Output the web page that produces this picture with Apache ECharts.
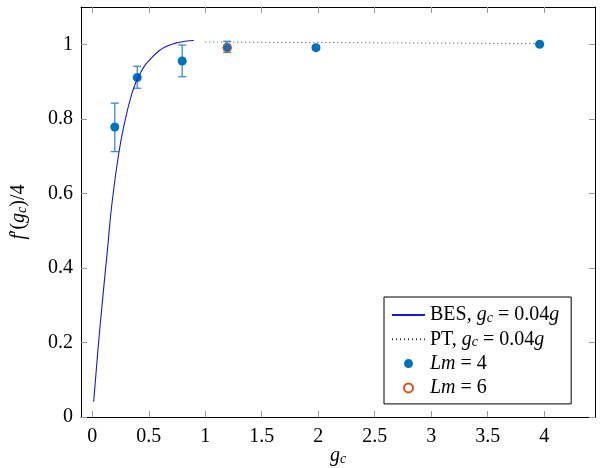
<!DOCTYPE html>
<html>
<head>
<meta charset="utf-8">
<script src="https://cdn.jsdelivr.net/npm/echarts@6/dist/echarts.min.js"></script>
<style>
  html, body { margin: 0; padding: 0; background: #fff; }
  #chart { width: 600px; height: 468px; }
</style>
</head>
<body>
<div id="chart"></div>
<script>
// BES curve, g_c = 0.04g
const besX = [0.012, 0.05, 0.091, 0.133, 0.173, 0.233, 0.286, 0.345, 0.389, 0.45, 0.498, 0.589, 0.66, 0.737, 0.82, 0.899]
const besY = [0.041, 0.18, 0.315, 0.445, 0.57, 0.705, 0.79, 0.862, 0.9, 0.936, 0.955, 0.982, 0.995, 1.003, 1.008, 1.01]
// PT, dotted
const ptX = [1.0, 3.96]
const ptY = [1.006, 1.002]
// Lm = 4 points with error bars
const lm4X = [0.199, 0.398, 0.796, 1.194, 1.98, 3.96]
const lm4Y = [0.778, 0.911, 0.955, 0.992, 0.991, 1.0]
const lm4Lo = [0.712, 0.882, 0.913, 0.978, 0.986, 0.996]
const lm4Hi = [0.842, 0.941, 0.998, 1.008, 0.996, 1.003]
// Lm = 6
const lm6X = [1.194]
const lm6Y = [0.99]

const xTicks = [0, 0.5, 1, 1.5, 2, 2.5, 3, 3.5, 4]
const yTicks = [0, 0.2, 0.4, 0.6, 0.8, 1]

const xName = '{i|g}{s|c}'
const yName = '{i|f}{n|\u2032(}{i|g}{s|c}{n|)/4}'
const legendText = {
  BES: '{n|BES, }{i|g}{s|c}{n| = 0.04}{i|g}',
  PT: '{n|PT, }{i|g}{s|c}{n| = 0.04}{i|g}',
  Lm4: '{i|Lm}{n| = 4}',
  Lm6: '{i|Lm}{n| = 6}'
}

const zip = (a, b) => a.map((v, i) => [v, b[i]])

const serif = 'Liberation Serif'
const rich = {
  n: { fontFamily: serif, fontSize: 20, lineHeight: 20, color: '#000' },
  i: { fontFamily: serif, fontStyle: 'italic', fontSize: 20, lineHeight: 20, color: '#000' },
  s: { fontFamily: serif, fontStyle: 'italic', fontSize: 14, lineHeight: 10, verticalAlign: 'bottom', color: '#000' }
}

const blue = '#0072BD'
const orange = '#D95319'
const tickStyle = { show: true, inside: true, length: 6, lineStyle: { color: '#999', width: 1 } }
const lineStyle = { show: true, lineStyle: { color: '#000', width: 1 } }
// no marker on the line entries of the legend
const noMark = { color: 'rgba(0,0,0,0)', borderWidth: 0 }

const chart = echarts.init(document.getElementById('chart'))

chart.setOption({
  animation: false,
  grid: { left: 81, right: 5, top: 7, bottom: 51, outerBoundsMode: 'none', containLabel: false },
  // x axis name placed by hand, the axis name kept slipping off the bottom
  graphic: [{
    type: 'text',
    x: 338,
    y: 456,
    style: { text: xName, rich: rich, align: 'center', verticalAlign: 'middle' }
  }],
  xAxis: [{
    type: 'value',
    min: -0.1,
    max: 4.45,
    axisLine: { ...lineStyle, onZero: false },
    axisTick: { ...tickStyle, customValues: xTicks },
    splitLine: { show: false },
    axisLabel: {
      customValues: xTicks,
      fontFamily: serif,
      fontSize: 20,
      color: '#000',
      margin: 10
    }
  }, {
    type: 'value',
    position: 'top',
    min: -0.1,
    max: 4.45,
    axisLine: { ...lineStyle, onZero: false },
    axisTick: { ...tickStyle, customValues: xTicks },
    splitLine: { show: false },
    axisLabel: { show: false }
  }],
  yAxis: [{
    type: 'value',
    min: 0,
    max: 1.1,
    axisLine: { ...lineStyle, onZero: false },
    axisTick: { ...tickStyle, customValues: yTicks },
    splitLine: { show: false },
    axisLabel: {
      customValues: yTicks,
      fontFamily: serif,
      fontSize: 20,
      color: '#000',
      margin: 8
    },
    name: yName,
    nameLocation: 'middle',
    nameGap: 52,
    nameTextStyle: { rich: rich }
  }, {
    type: 'value',
    position: 'right',
    min: 0,
    max: 1.1,
    axisLine: { ...lineStyle, onZero: false },
    axisTick: { ...tickStyle, customValues: yTicks },
    splitLine: { show: false },
    axisLabel: { show: false }
  }],
  legend: {
    orient: 'vertical',
    left: 384,
    top: 297,
    padding: [8, 12, 6, 7],
    itemGap: 4.3,
    itemWidth: 33,
    itemHeight: 9,
    borderColor: '#000',
    borderWidth: 1,
    backgroundColor: '#fff',
    data: [
      { name: 'BES', itemStyle: noMark },
      { name: 'PT', itemStyle: noMark },
      'Lm4',
      'Lm6'
    ],
    formatter: name => legendText[name],
    textStyle: { rich: rich }
  },
  series: [{
    name: 'BES',
    type: 'line',
    data: zip(besX, besY),
    smooth: true,
    symbol: 'none',
    lineStyle: { color: '#1818d8', width: 1.1 },
    itemStyle: { color: '#1818d8' }
  }, {
    name: 'PT',
    type: 'line',
    data: zip(ptX, ptY),
    symbol: 'none',
    lineStyle: { color: '#444', width: 1, type: [1, 3] },
    itemStyle: { color: '#444' }
  }, {
    name: 'err',
    type: 'custom',
    data: lm4X.map((x, i) => [x, lm4Lo[i], lm4Hi[i]]),
    renderItem: (params, api) => {
      const lo = api.coord([api.value(0), api.value(1)])
      const hi = api.coord([api.value(0), api.value(2)])
      const w = 4
      const style = { stroke: '#3a8dd0', lineWidth: 1.3 }
      return {
        type: 'group',
        children: [
          { type: 'line', shape: { x1: lo[0], y1: lo[1], x2: hi[0], y2: hi[1] }, style },
          { type: 'line', shape: { x1: lo[0] - w, y1: lo[1], x2: lo[0] + w, y2: lo[1] }, style },
          { type: 'line', shape: { x1: hi[0] - w, y1: hi[1], x2: hi[0] + w, y2: hi[1] }, style }
        ]
      }
    },
    encode: { x: 0, y: [1, 2] }
  }, {
    name: 'Lm4',
    type: 'scatter',
    data: zip(lm4X, lm4Y),
    symbol: 'circle',
    symbolSize: 9,
    itemStyle: { color: blue, opacity: 1 }
  }, {
    name: 'Lm6',
    type: 'scatter',
    data: zip(lm6X, lm6Y),
    symbol: 'circle',
    symbolSize: 8,
    itemStyle: { color: 'rgba(255,255,255,0)', borderColor: orange, borderWidth: 1.2, opacity: 1 }
  }]
})
</script>
</body>
</html>
